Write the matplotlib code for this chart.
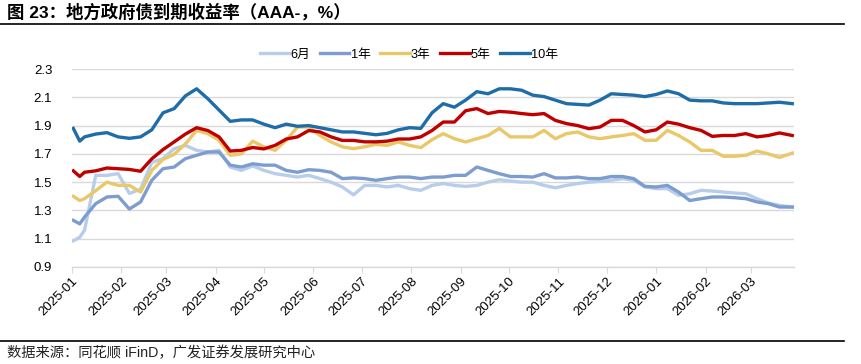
import pandas as pd
import matplotlib
matplotlib.use("Agg")
import matplotlib.pyplot as plt
import matplotlib.dates as mdates
from matplotlib.lines import Line2D

plt.rcParams["font.family"] = ["Liberation Sans", "Noto Sans CJK SC"]

# ----------------------------
# data (roughly weekly)
# ----------------------------
dates = [
    "2025-01-02", "2025-01-06", "2025-01-09", "2025-01-16", "2025-01-23", "2025-01-30",
    "2025-02-06", "2025-02-13", "2025-02-20", "2025-02-27", "2025-03-06", "2025-03-13",
    "2025-03-20", "2025-03-27", "2025-04-03", "2025-04-10", "2025-04-17", "2025-04-24",
    "2025-05-01", "2025-05-08", "2025-05-15", "2025-05-22", "2025-05-29", "2025-06-05",
    "2025-06-12", "2025-06-19", "2025-06-26", "2025-07-03", "2025-07-10", "2025-07-17",
    "2025-07-24", "2025-07-31", "2025-08-07", "2025-08-14", "2025-08-21", "2025-08-28",
    "2025-09-04", "2025-09-11", "2025-09-18", "2025-09-25", "2025-10-02", "2025-10-09",
    "2025-10-16", "2025-10-23", "2025-10-30", "2025-11-06", "2025-11-13", "2025-11-20",
    "2025-11-27", "2025-12-04", "2025-12-11", "2025-12-18", "2025-12-25", "2026-01-01",
    "2026-01-08", "2026-01-15", "2026-01-22", "2026-01-29", "2026-02-05", "2026-02-12",
    "2026-02-19", "2026-02-26", "2026-03-05", "2026-03-12", "2026-03-19", "2026-03-27",
]

y_6m = [
    1.085, 1.11, 1.16, 1.548, 1.548, 1.56, 1.42, 1.45, 1.64, 1.666, 1.737, 1.76,
    1.725, 1.713, 1.725, 1.607, 1.583, 1.615, 1.583, 1.56, 1.548, 1.536, 1.548, 1.525,
    1.50, 1.466, 1.41, 1.477, 1.477, 1.466, 1.477, 1.454, 1.442, 1.477, 1.49, 1.477,
    1.47, 1.477, 1.50, 1.517, 1.508, 1.50, 1.50, 1.477, 1.46, 1.477, 1.49, 1.50,
    1.505, 1.513, 1.525, 1.513, 1.466, 1.454, 1.454, 1.407, 1.418, 1.442, 1.437, 1.43,
    1.423, 1.418, 1.383, 1.353, 1.336, 1.324,
]
y_1y = [
    1.23, 1.205, 1.253, 1.348, 1.395, 1.40, 1.31, 1.36, 1.513, 1.595, 1.607, 1.666,
    1.69, 1.713, 1.713, 1.62, 1.607, 1.63, 1.62, 1.62, 1.583, 1.57, 1.588, 1.583,
    1.57, 1.525, 1.53, 1.525, 1.513, 1.525, 1.536, 1.536, 1.525, 1.536, 1.536, 1.548,
    1.548, 1.607, 1.583, 1.56, 1.54, 1.54, 1.536, 1.56, 1.53, 1.53, 1.536, 1.525,
    1.525, 1.54, 1.54, 1.525, 1.47, 1.466, 1.477, 1.43, 1.37, 1.383, 1.395, 1.395,
    1.39, 1.383, 1.36, 1.348, 1.324, 1.324,
]
y_3y = [
    1.40, 1.37, 1.383, 1.44, 1.50, 1.477, 1.477, 1.43, 1.583, 1.66, 1.697, 1.77,
    1.866, 1.843, 1.796, 1.69, 1.70, 1.79, 1.75, 1.725, 1.796, 1.89, 1.89, 1.83,
    1.784, 1.75, 1.737, 1.75, 1.767, 1.76, 1.784, 1.76, 1.744, 1.80, 1.843, 1.807,
    1.784, 1.807, 1.83, 1.88, 1.82, 1.82, 1.82, 1.866, 1.807, 1.843, 1.855, 1.82,
    1.807, 1.82, 1.83, 1.843, 1.796, 1.796, 1.866, 1.83, 1.784, 1.725, 1.725, 1.683,
    1.683, 1.69, 1.72, 1.70, 1.675, 1.705,
]
y_5y = [
    1.58, 1.54, 1.57, 1.58, 1.60, 1.595, 1.59, 1.577, 1.665, 1.73, 1.785, 1.84,
    1.885, 1.865, 1.82, 1.72, 1.725, 1.745, 1.735, 1.76, 1.805, 1.82, 1.865, 1.855,
    1.82, 1.795, 1.795, 1.785, 1.785, 1.79, 1.805, 1.805, 1.82, 1.865, 1.925, 1.925,
    2.005, 2.02, 1.985, 2.00, 1.995, 1.985, 1.977, 1.985, 1.937, 1.914, 1.90, 1.878,
    1.89, 1.937, 1.937, 1.90, 1.855, 1.87, 1.925, 1.91, 1.885, 1.866, 1.824, 1.83,
    1.83, 1.843, 1.82, 1.83, 1.848, 1.83,
]
y_10y = [
    1.88, 1.79, 1.82, 1.84, 1.85, 1.82, 1.81, 1.82, 1.87, 1.99, 2.02, 2.11,
    2.16, 2.09, 2.01, 1.93, 1.94, 1.94, 1.91, 1.885, 1.91, 1.895, 1.90, 1.885,
    1.87, 1.855, 1.855, 1.845, 1.835, 1.845, 1.87, 1.885, 1.88, 1.99, 2.055, 2.03,
    2.08, 2.14, 2.125, 2.16, 2.16, 2.15, 2.115, 2.105, 2.08, 2.055, 2.05, 2.045,
    2.08, 2.125, 2.12, 2.115, 2.105, 2.12, 2.145, 2.125, 2.08, 2.075, 2.075, 2.06,
    2.055, 2.055, 2.055, 2.06, 2.065, 2.055,
]

labels = ["6月", "1年", "3年", "5年", "10年"]
colors = ["#B7CDE9", "#7D9DCF", "#E8C868", "#C00000", "#1F6DA8"]

x = pd.to_datetime(dates)

# ----------------------------
# figure
# ----------------------------
fig = plt.figure(figsize=(8.61, 3.64), dpi=100)
ax = fig.add_axes([0.0833, 0.2665, 0.8387, 0.5439])

for vals, lab, col in zip([y_6m, y_1y, y_3y, y_5y, y_10y], labels, colors):
    ax.plot(x, vals, color=col, lw=2.4, label=lab, solid_joinstyle="round")

ax.set_ylim(0.9, 2.3)
ax.set_yticks([0.9, 1.1, 1.3, 1.5, 1.7, 1.9, 2.1, 2.3])
ax.yaxis.set_major_formatter(matplotlib.ticker.FormatStrFormatter("%.1f"))
ax.set_xlim(pd.Timestamp("2025-01-01"), pd.Timestamp("2026-03-28"))
ax.xaxis.set_major_locator(mdates.MonthLocator())
ax.xaxis.set_major_formatter(mdates.DateFormatter("%Y-%m"))

ax.grid(axis="y", color="#D9D9D9", lw=1)
ax.set_axisbelow(True)
for s in ["left", "right", "top"]:
    ax.spines[s].set_visible(False)
ax.spines["bottom"].set_color("#D9D9D9")
ax.spines["bottom"].set_linewidth(1)
ax.tick_params(axis="y", length=0, labelsize=9.5, pad=14)
ax.tick_params(axis="x", length=4, color="#D9D9D9", labelsize=9.5, pad=2)
for lbl in ax.get_xticklabels():
    lbl.set_rotation(45)
    lbl.set_ha("right")
    lbl.set_rotation_mode("anchor")

fig.legend(loc="center", bbox_to_anchor=(0.475, 0.849), ncol=5, frameon=False,
           fontsize=9.2, handlelength=2.3, handletextpad=0.1, columnspacing=0.75)

# title, separator lines, source
fig.text(0.008, 0.967, "图 23：地方政府债到期收益率（AAA-，%）", fontsize=12.5,
         fontweight="bold", va="center", ha="left",
         family=["Liberation Sans", "Noto Sans CJK SC"])
fig.add_artist(Line2D([0.0, 0.98], [0.934, 0.934], color="black", lw=1.2))
fig.add_artist(Line2D([0.0, 0.98], [0.063, 0.063], color="black", lw=1.2))
fig.text(0.008, 0.030, "数据来源：同花顺 iFinD，广发证券发展研究中心", fontsize=10.3,
         va="center", ha="left", color="#222222")

fig.savefig("out.png", dpi=100)
